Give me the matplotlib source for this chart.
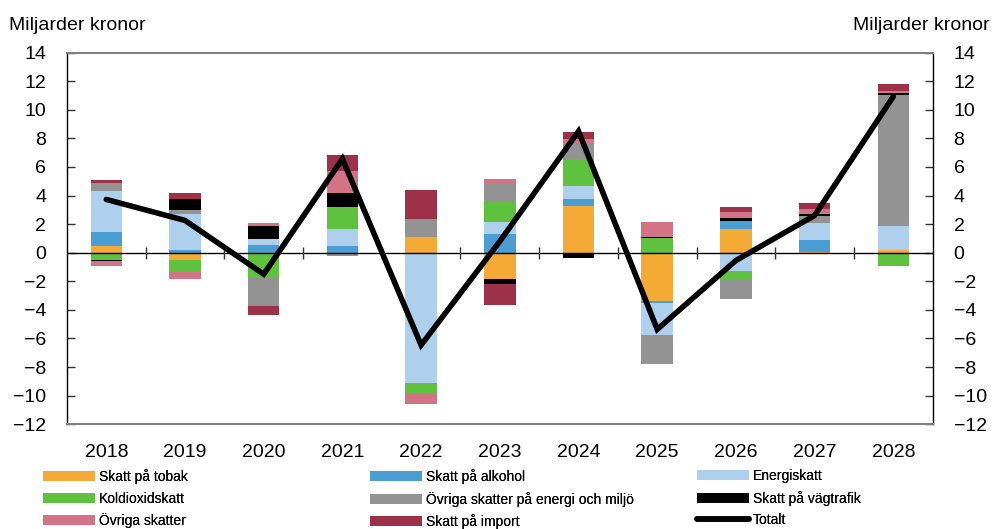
import numpy as np
import matplotlib.pyplot as plt
from matplotlib.patches import Patch
from matplotlib.lines import Line2D

plt.rcParams['font.family'] = ['Liberation Sans', 'DejaVu Sans']

# Data (miljarder kronor)
years = ['2018', '2019', '2020', '2021', '2022', '2023', '2024', '2025', '2026', '2027', '2028']

tobak = [0.5, -0.54, 0.0, 0.0, 1.1, -1.82, 3.24, -3.36, 1.65, 0.07, 0.19]
alkohol = [0.93, 0.16, 0.51, 0.47, 0.0, 1.28, 0.49, -0.16, 0.54, 0.84, 0.0]
energiskatt = [2.91, 2.56, 0.42, 1.21, -9.09, 0.86, 0.91, -2.21, -1.3, 1.19, 1.7]
koldioxid = [-0.54, -0.84, -1.77, 1.52, -0.7, 1.42, 1.91, 1.0, -0.6, 0.0, -0.96]
ovr_energi = [0.56, 0.3, -1.96, -0.23, 1.26, 1.33, 1.07, -2.03, -1.35, 0.49, 9.14]
vagtrafik = [-0.05, 0.77, 0.93, 0.96, 0.0, -0.4, -0.4, 0.08, 0.26, 0.1, 0.12]
ovr_skatter = [-0.37, -0.49, 0.23, 1.54, -0.77, 0.26, 0.35, 1.07, 0.4, 0.4, 0.19]
importskatt = [0.2, 0.4, -0.63, 1.14, 2.0, -1.42, 0.51, 0.0, 0.35, 0.42, 0.44]
totalt = [3.73, 2.26, -1.5, 6.57, -6.46, 0.8, 8.5, -5.36, -0.54, 2.61, 10.93]

series = [
    ('Skatt på tobak', tobak, '#F4AA35'),
    ('Skatt på alkohol', alkohol, '#4A9ED3'),
    ('Energiskatt', energiskatt, '#AED0EC'),
    ('Koldioxidskatt', koldioxid, '#5EC23F'),
    ('Övriga skatter på energi och miljö', ovr_energi, '#939393'),
    ('Skatt på vägtrafik', vagtrafik, '#000000'),
    ('Övriga skatter', ovr_skatter, '#D37486'),
    ('Skatt på import', importskatt, '#9C3149'),
]

fig = plt.figure(figsize=(9.92, 5.29), dpi=100)
ax = fig.add_axes([0.0675, 0.198, 0.8727, 0.7025])

x = np.arange(len(years))
pos = np.zeros(len(years))
neg = np.zeros(len(years))
handles = []
for name, vals, col in series:
    v = np.array(vals)
    bottom = np.where(v >= 0, pos, neg)
    ax.bar(x, v, width=0.4, bottom=bottom, color=col, edgecolor='none', zorder=2)
    pos = pos + np.where(v > 0, v, 0)
    neg = neg + np.where(v < 0, v, 0)
    handles.append(Patch(facecolor=col, edgecolor='none', label=name))

ax.axhline(0, color='black', linewidth=1, zorder=3)
# small tick marks between categories on the zero line
ax.vlines(x[:-1] + 0.5, -0.42, 0.42, color='#333333', linewidth=1, zorder=3)

ax.plot(x, totalt, color='black', linewidth=4, solid_capstyle='round',
        solid_joinstyle='miter', zorder=4)
handles.append(Line2D([], [], color='black', linewidth=4, solid_capstyle='round', label='Totalt'))

ax.set_xlim(-0.5, 10.5)
ax.set_ylim(-12, 14)
ax.set_yticks(np.arange(-12, 15, 2))
ax.set_xticks(x)
ax.set_xticklabels(years)
ax.tick_params(axis='x', length=0, pad=14, labelsize=14)
ax.tick_params(axis='y', direction='in', length=6, width=1, left=True, right=True,
               labelleft=True, labelright=True, labelsize=14, pad=15, color='#333333')

for s in ['top', 'bottom']:
    ax.spines[s].set_color('#808080')
    ax.spines[s].set_linewidth(1.5)
for s in ['left', 'right']:
    ax.spines[s].set_color('black')
    ax.spines[s].set_linewidth(1)

fig.text(0.009, 1 - 30 / 529, 'Miljarder kronor', fontsize=14, ha='left', va='baseline')
fig.text(0.998, 1 - 30 / 529, 'Miljarder kronor', fontsize=14, ha='right', va='baseline')

# legend: three columns placed by hand, filled row-wise
col_x = [43, 370, 697]
for c in range(3):
    hs = handles[c::3]
    leg = fig.legend(handles=hs, loc='upper left', bbox_to_anchor=(col_x[c] / 992, 1 - 469 / 529),
                     frameon=False, fontsize=10, handlelength=3.74, handleheight=0.72,
                     handletextpad=0.3, labelspacing=0.55, borderpad=0, borderaxespad=0)
    fig.add_artist(leg)

plt.savefig('out.png', dpi=100)
